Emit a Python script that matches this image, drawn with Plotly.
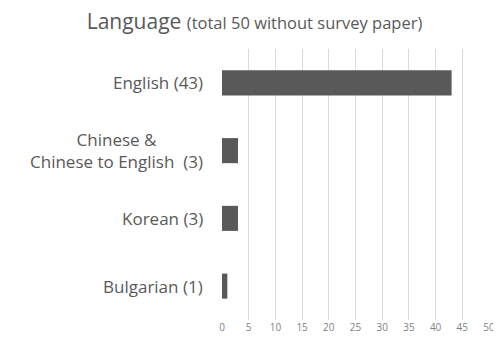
import plotly.graph_objects as go

categories = ["English (43)", "Chinese &<br>Chinese to English  (3)", "Korean (3)", "Bulgarian (1)"]
values = [43, 3, 3, 1]
x_ticks = [0, 5, 10, 15, 20, 25, 30, 35, 40, 45, 50]

FONT = "Open Sans"
TEXT = "#595959"

W, H = 493, 337  # page body has an 8px margin

fig = go.Figure(go.Bar(
    x=values, y=categories, orientation="h",
    marker=dict(color="#595959", line=dict(width=0)),
    width=0.37,
))

annotations = [dict(
    x=-0.064, xref="paper", y=c, yref="y", text=c, showarrow=False,
    xanchor="right", yanchor="middle", align="center",
    font=dict(family=FONT, size=17, color=TEXT),
) for c in categories]

fig.update_layout(
    width=W, height=H,
    margin=dict(l=214, r=6, t=41, b=25),
    paper_bgcolor="white", plot_bgcolor="white",
    title=dict(
        text="Language <span style='font-size:16.5px'>(total 50 without survey paper)</span>",
        x=0.5, xanchor="center", y=1 - 14 / H, yanchor="middle",
        font=dict(family=FONT, size=21, color=TEXT),
    ),
    xaxis=dict(
        range=[0, 50], tickvals=x_ticks, showgrid=True, gridcolor="#d9d9d9", gridwidth=1,
        zeroline=False, showline=False, ticks="",
        tickfont=dict(family=FONT, size=10, color="#7f7f7f"),
        fixedrange=True,
    ),
    yaxis=dict(
        categoryorder="array", categoryarray=categories[::-1],
        showticklabels=False, showgrid=False, zeroline=False, ticks="",
        range=[-0.5, 3.5],
    ),
    annotations=annotations,
    showlegend=False,
)

fig.write_html("out.html")
